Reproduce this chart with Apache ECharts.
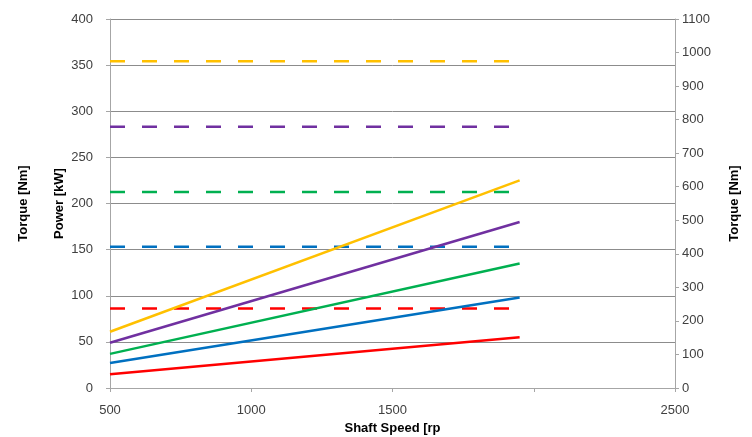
<!DOCTYPE html>
<html>
<head>
<meta charset="utf-8">
<script src="https://cdn.jsdelivr.net/npm/echarts@6/dist/echarts.min.js"></script>
<style>
  html, body { margin: 0; padding: 0; background: #fff; }
  #chart { width: 752px; height: 437px; }
</style>
</head>
<body>
<div id="chart"></div>
<script>
// shaft speed [rpm] at start / end of each curve
const speeds = [500, 1950]

// power curves [kW], left axis
const powerYellow = [61, 225]
const powerPurple = [49, 180]
const powerGreen = [37, 135]
const powerBlue = [27, 98]
const powerRed = [15, 55]

// torque levels [Nm], right axis
const torqueYellow = [974, 974]
const torquePurple = [779, 779]
const torqueGreen = [584, 584]
const torqueBlue = [421, 421]
const torqueRed = [237, 237]

const colors = {
  yellow: '#FFC000',
  purple: '#7030A0',
  green: '#00B050',
  blue: '#0070C0',
  red: '#FF0000',
}

const font = 'Liberation Sans'

function pairs(ys) {
  return speeds.map((x, i) => [x, ys[i]])
}

function solid(ys, color) {
  return {
    type: 'line',
    data: pairs(ys),
    yAxisIndex: 0,
    symbol: 'none',
    lineStyle: { color: color, width: 2.5 },
  }
}

function dashed(ys, color) {
  return {
    type: 'line',
    data: pairs(ys),
    yAxisIndex: 1,
    symbol: 'none',
    lineStyle: { color: color, width: 2.5, type: [15, 17] },
  }
}

const chart = echarts.init(document.getElementById('chart'))
chart.setOption({
  animation: false,
  grid: { left: 110, right: 77, top: 19, bottom: 49, outerBoundsMode: 'none' },
  xAxis: {
    type: 'value',
    min: 500,
    max: 2500,
    interval: 500,
    name: 'Shaft Speed [rp',
    nameLocation: 'middle',
    nameGap: 30,
    nameTextStyle: { fontFamily: font, fontSize: 13, fontWeight: 'bold', color: '#000' },
    axisLine: { show: true, lineStyle: { color: '#a6a6a6' } },
    axisTick: { show: true, length: 4, lineStyle: { color: '#a6a6a6' } },
    axisLabel: {
      fontFamily: font,
      fontSize: 13,
      color: '#404040',
      margin: 16,
      formatter: (v) => (v === 2000 ? '' : v),
    },
    splitLine: { show: false },
  },
  yAxis: [
    {
      type: 'value',
      min: 0,
      max: 400,
      interval: 50,
      position: 'left',
      name: 'Power [kW]',
      nameLocation: 'middle',
      nameGap: 44,
      nameMoveOverlap: false,
      nameTextStyle: { fontFamily: font, fontSize: 13, fontWeight: 'bold', color: '#000' },
      axisLine: { show: true, lineStyle: { color: '#a6a6a6' } },
      axisTick: { show: true, length: 4, lineStyle: { color: '#a6a6a6' } },
      axisLabel: { fontFamily: font, fontSize: 13, color: '#404040', margin: 17 },
      splitLine: { show: true, lineStyle: { color: '#8c8c8c', width: 1 } },
    },
    {
      type: 'value',
      min: 0,
      max: 1100,
      interval: 100,
      position: 'right',
      name: 'Torque [Nm]',
      nameLocation: 'middle',
      nameGap: 53,
      nameTextStyle: { fontFamily: font, fontSize: 13, fontWeight: 'bold', color: '#000' },
      axisLine: { show: true, lineStyle: { color: '#a6a6a6' } },
      axisTick: { show: true, length: 4, lineStyle: { color: '#a6a6a6' } },
      axisLabel: { fontFamily: font, fontSize: 13, color: '#404040', margin: 7, formatter: (v) => String(v) },
      splitLine: { show: false },
    },
    {
      // second title on the left side only
      type: 'value',
      min: 0,
      max: 400,
      position: 'left',
      name: 'Torque [Nm]',
      nameLocation: 'middle',
      nameGap: 80,
      nameMoveOverlap: false,
      nameTextStyle: { fontFamily: font, fontSize: 13, fontWeight: 'bold', color: '#000' },
      axisLine: { show: false },
      axisTick: { show: false },
      axisLabel: { show: false },
      splitLine: { show: false },
    },
  ],
  series: [
    dashed(torqueYellow, colors.yellow),
    dashed(torquePurple, colors.purple),
    dashed(torqueGreen, colors.green),
    dashed(torqueBlue, colors.blue),
    dashed(torqueRed, colors.red),
    solid(powerYellow, colors.yellow),
    solid(powerPurple, colors.purple),
    solid(powerGreen, colors.green),
    solid(powerBlue, colors.blue),
    solid(powerRed, colors.red),
  ],
})
</script>
</body>
</html>
